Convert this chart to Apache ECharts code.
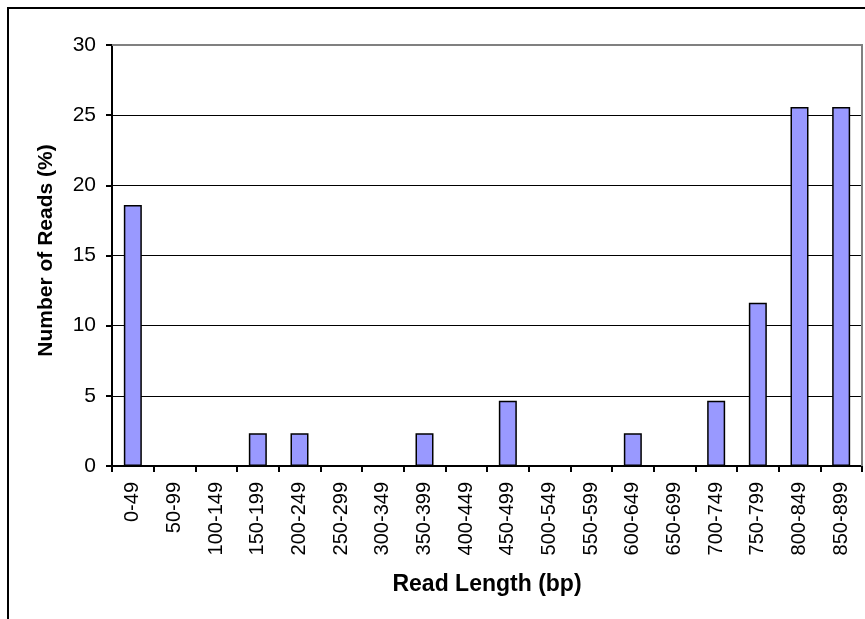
<!DOCTYPE html>
<html>
<head>
<meta charset="utf-8">
<script src="https://cdn.jsdelivr.net/npm/echarts@6/dist/echarts.min.js"></script>
<style>
html,body{margin:0;padding:0;background:#fff;}
#c{width:865px;height:619px;}
</style>
</head>
<body>
<div id="c"></div>
<script>
const categories = ["0-49","50-99","100-149","150-199","200-249","250-299","300-349","350-399","400-449","450-499","500-549","550-599","600-649","650-699","700-749","750-799","800-849","850-899"];
const readPercent = [18.60,0,0,2.33,2.33,0,0,2.33,0,4.65,0,0,2.33,0,4.65,11.63,25.58,25.58];
const yTicks = [0,5,10,15,20,25,30];

const chart = echarts.init(document.getElementById('c'), null, {renderer:'canvas'});
const font = 'Arial, "Liberation Sans", sans-serif';
chart.setOption({
  animation:false,
  backgroundColor:'#fff',
  grid:{left:112,top:45,right:3,bottom:153,containLabel:false},
  xAxis:{
    type:'category',
    data:categories,
    boundaryGap:true,
    name:'Read Length (bp)',
    nameLocation:'middle',
    nameGap:107,
    nameTextStyle:{fontFamily:font,fontWeight:'bold',fontSize:23,color:'#000'},
    axisLine:{lineStyle:{color:'#000',width:2}},
    axisTick:{show:true,length:6,inside:false,alignWithLabel:false,lineStyle:{color:'#000',width:2}},
    axisLabel:{rotate:90,fontFamily:font,fontSize:20,color:'#000',margin:16,interval:0},
    splitLine:{show:false}
  },
  yAxis:{
    type:'value',
    min:yTicks[0],max:yTicks[yTicks.length-1],interval:5,
    name:'Number of Reads (%)',
    nameLocation:'middle',
    nameGap:55,
    nameTextStyle:{fontFamily:font,fontWeight:'bold',fontSize:21,color:'#000',padding:[0,0,0,10]},
    axisLine:{show:true,lineStyle:{color:'#000',width:2}},
    axisTick:{show:true,length:6,lineStyle:{color:'#000',width:2}},
    axisLabel:{fontFamily:font,fontSize:21,color:'#000',margin:16},
    splitLine:{show:true,lineStyle:{color:'#000',width:1}}
  },
  series:[{
    type:'bar',
    data:readPercent,
    barWidth:18,
    itemStyle:{color:'#9999FF',borderColor:'#000',borderWidth:1.5},
    z:3
  }],
  graphic:[
    {type:'rect',shape:{x:8,y:8,width:900,height:700},style:{fill:null,stroke:'#000',lineWidth:2},silent:true},
    {type:'polyline',shape:{points:[[112,45],[862,45],[862,466]]},style:{fill:null,stroke:'#808080',lineWidth:2},silent:true,z:10}
  ]
});
</script>
</body>
</html>
